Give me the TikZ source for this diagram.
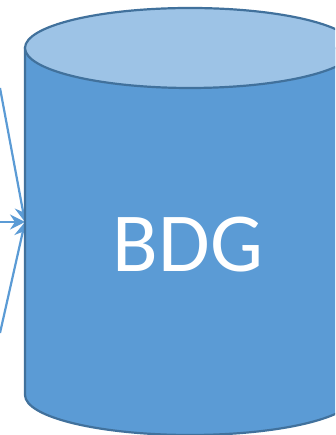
\documentclass[tikz,border=0pt]{standalone}
\usepackage{fontspec}
\newfontfamily\labelfont{Carlito}
\usetikzlibrary{arrows.meta}
\definecolor{bodyblue}{HTML}{5B9BD5}
\definecolor{lidblue}{HTML}{9DC3E6}
\definecolor{rimblue}{HTML}{41719C}

\begin{document}
\begin{tikzpicture}[x=1pt, y=1pt,
  rim/.style  = {draw=rimblue, line width=2.2pt},
  feed/.style = {color=bodyblue, line width=2.2pt, -{Stealth[length=15pt, width=15pt, inset=5pt]}}]

\useasboundingbox (0,0) rectangle (335,435);
\clip (0,0) rectangle (335,435);

\coordinate (src1) at (0,347);
\coordinate (src2) at (0,213);
\coordinate (src3) at (0,102);
\coordinate (in)   at (25,213);

\draw [feed] (src1) -- (in);
\draw [feed] (src2) -- (in);
\draw [feed] (src3) -- (in);

% cylinder
\path [rim, fill=bodyblue] (25,387) -- (25,40)
  arc [start angle=180, end angle=360, x radius=165, y radius=40] -- (355,387) -- cycle;
\path [rim, fill=lidblue] (190,387) ellipse [x radius=165, y radius=40];

\node [text=white, font=\labelfont\fontsize{84}{84}\selectfont] (bdg) at (188,190) {BDG};

\end{tikzpicture}
\end{document}
